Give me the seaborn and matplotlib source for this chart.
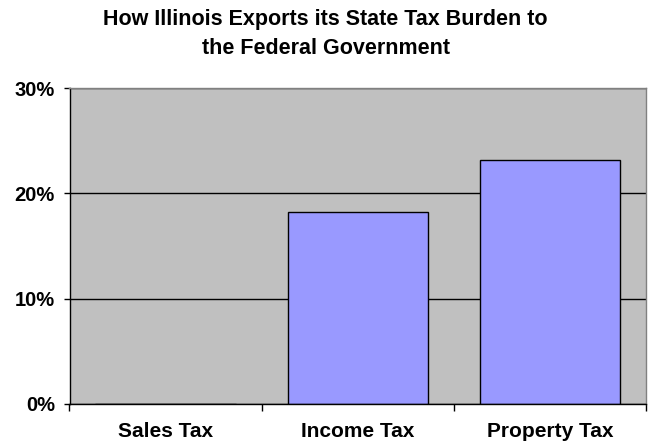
import matplotlib
matplotlib.use("Agg")
import matplotlib.pyplot as plt
import seaborn as sns
import pandas as pd
from matplotlib.ticker import FixedLocator, PercentFormatter

categories = ["Sales Tax", "Income Tax", "Property Tax"]
values = [0.0, 18.2, 23.2]
y_ticks = [0, 10, 20, 30]

sns.set_theme(style="white")
plt.rcParams['font.family'] = ['Liberation Sans', 'DejaVu Sans']
plt.rcParams['text.color'] = 'black'
plt.rcParams['xtick.color'] = 'black'
plt.rcParams['ytick.color'] = 'black'
plt.rcParams['xtick.bottom'] = True
plt.rcParams['ytick.left'] = True

df = pd.DataFrame({"category": categories, "value": values})

fig = plt.figure(figsize=(6.51, 4.42), dpi=100)
fig.patch.set_facecolor("white")
ax = fig.add_axes([69.5/651, 1 - 403.7/442, (646 - 69.5)/651, (403.7 - 88.3)/442])
ax.set_facecolor("#C0C0C0")

sns.barplot(data=df, x="category", y="value", color="#9999FF", saturation=1,
            edgecolor="black", linewidth=1.0, width=0.73, ax=ax, zorder=3)

ax.set_ylim(0, 30)
ax.set_xlim(-0.5, 2.5)
ax.set_yticks(y_ticks)
ax.yaxis.set_major_formatter(PercentFormatter(decimals=0))
ax.yaxis.grid(True, color="black", linewidth=1.0, zorder=1)
ax.set_axisbelow(True)
ax.set_xlabel("")
ax.set_ylabel("")

ax.xaxis.set_minor_locator(FixedLocator([-0.5, 0.5, 1.5, 2.5]))
ax.tick_params(axis="x", which="major", bottom=True, length=0, pad=13, labelsize=15,
               labelcolor="black")
ax.tick_params(axis="x", which="minor", bottom=True, length=5, width=1, color="black",
               direction="out")
ax.tick_params(axis="y", which="major", left=True, length=4.5, width=1, color="black",
               direction="out", pad=6, labelsize=14.5, labelcolor="black")
for lab in ax.get_xticklabels() + ax.get_yticklabels():
    lab.set_fontweight("bold")

for side in ["left", "bottom"]:
    ax.spines[side].set_color("black")
    ax.spines[side].set_linewidth(1.0)
    ax.spines[side].set_visible(True)
for side in ["top", "right"]:
    ax.spines[side].set_color("#808080")
    ax.spines[side].set_linewidth(1.0)
    ax.spines[side].set_visible(True)
ax.spines["bottom"].set_zorder(4)

fig.text(0.5, 1 - 34.5/442, "How Illinois Exports its State Tax Burden to\nthe Federal Government",
         ha="center", va="center", fontsize=15.5, fontweight="bold", linespacing=1.5,
         color="black")

fig.savefig("out.png", dpi=100)
